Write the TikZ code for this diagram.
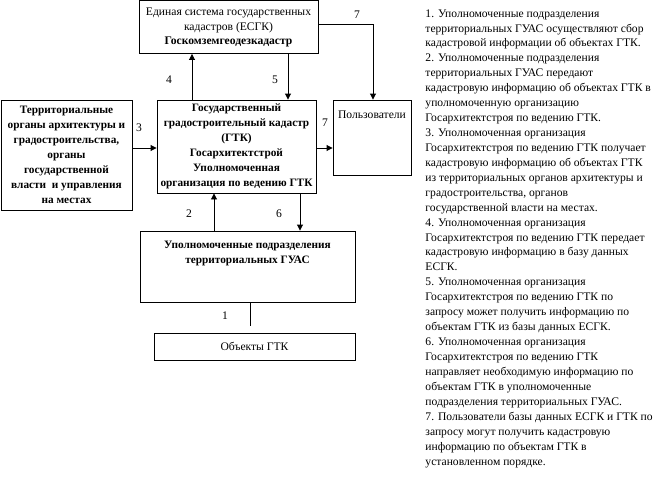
\documentclass[tikz,border=0pt]{standalone}
\usepackage{fontspec}
\setmainfont{Liberation Serif}
\usetikzlibrary{arrows.meta,positioning}
\begin{document}
\begin{tikzpicture}[
 x=1pt,y=-1pt,
 line width=.9pt,
 txt/.style={font=\fontsize{11.6}{14.93}\selectfont,align=center,inner sep=0pt},
 bx/.style={draw,rectangle,inner sep=0pt},
 bxb/.style={bx,txt,font=\fontsize{11.3}{14.93}\selectfont\bfseries},
 arr/.style={-{Triangle[length=6pt,width=6pt]}},
 num/.style={txt},
 ]
 \useasboundingbox (0,0) rectangle (665,493);
 % boxes
 \node[bx,minimum width=179,minimum height=53] (esgk) at (228.5,27) {};
 \node[txt,below=7pt of esgk.north] (esgkt)
 {Единая система государственных\\кадастров (ЕСГК)\\\textbf{Госкомземгеодезкадастр}};
 \node[bxb,minimum width=131,minimum height=110] (terr) at (66.5,155)
 {Территориальные\\органы архитектуры и\\градостроительства,\\органы\\государственной\\власти \ и управления\\на местах};
 \node[bxb,minimum width=159,minimum height=93] (ggk) at (236.5,146.5)
 {Государственный\\градостроительный кадастр\\(ГТК)\\Госархитектстрой\\Уполномоченная\\организация по ведению ГТК};
 \node[bx,minimum width=78,minimum height=75] (users) at (372,137.5) {};
 \node[txt,below=11pt of users.north] (userst) {Пользователи};
 \node[bx,minimum width=215,minimum height=71] (guas) at (247.5,266.5) {};
 \node[txt,font=\fontsize{11.3}{14.93}\selectfont\bfseries,below=10pt of guas.north] (guast)
 {Уполномоченные подразделения\\территориальных ГУАС};
 \node[bx,txt,minimum width=201,minimum height=27] (obj) at (254.5,346.5) {Объекты ГТК};
 % connectors
 \coordinate (c4) at (192,0);
 \coordinate (c5) at (288,0);
 \coordinate (c7) at (373,24);
 \coordinate (c3) at (0,148);
 \coordinate (c2) at (214,0);
 \coordinate (c6) at (300,0);
 \coordinate (c1) at (250,326);
 \draw[arr] (ggk.north -| c4) -- (esgk.south -| c4);
 \draw[arr] (esgk.south -| c5) -- (ggk.north -| c5);
 \draw[arr] (esgk.east |- c7) -| (users.north -| c7);
 \draw[arr] (terr.east |- c3) -- (ggk.west |- c3);
 \draw[arr] (ggk.east |- c3) -- (users.west |- c3);
 \draw[arr] (guas.north -| c2) -- (ggk.south -| c2);
 \draw[arr] (ggk.south -| c6) -- (guas.north -| c6);
 \draw (guas.south -| c1) -- (c1);
 % numbers
 \node[num] (n4) at (169,80) {4};
 \node[num] (n5) at (275,80) {5};
 \node[num] (n7a) at (357,15) {7};
 \node[num] (n3) at (139,128) {3};
 \node[num] (n7b) at (325,123) {7};
 \node[num] (n2) at (189,214) {2};
 \node[num] (n6) at (279,214) {6};
 \node[num] (n1) at (225,316) {1};
 % legend
 \node[txt,align=left,anchor=north west] (legend) at (425,9)
 {1. Уполномоченные подразделения\\
 территориальных ГУАС осуществляют сбор\\
 кадастровой информации об объектах ГТК.\\
 2. Уполномоченные подразделения\\
 территориальных ГУАС передают\\
 кадастровую информацию об объектах ГТК в\\
 уполномоченную организацию\\
 Госархитектстроя по ведению ГТК.\\
 3. Уполномоченная организация\\
 Госархитектстроя по ведению ГТК получает\\
 кадастровую информацию об объектах ГТК\\
 из территориальных органов архитектуры и\\
 градостроительства, органов\\
 государственной власти на местах.\\
 4. Уполномоченная организация\\
 Госархитектстроя по ведению ГТК передает\\
 кадастровую информацию в базу данных\\
 ЕСГК.\\
 5. Уполномоченная организация\\
 Госархитектстроя по ведению ГТК по\\
 запросу может получить информацию по\\
 объектам ГТК из базы данных ЕСГК.\\
 6. Уполномоченная организация\\
 Госархитектстроя по ведению ГТК\\
 направляет необходимую информацию по\\
 объектам ГТК в уполномоченные\\
 подразделения территориальных ГУАС.\\
 7. Пользователи базы данных ЕСГК и ГТК по\\
 запросу могут получить кадастровую\\
 информацию по объектам ГТК в\\
 установленном порядке.};
\end{tikzpicture}
\end{document}
